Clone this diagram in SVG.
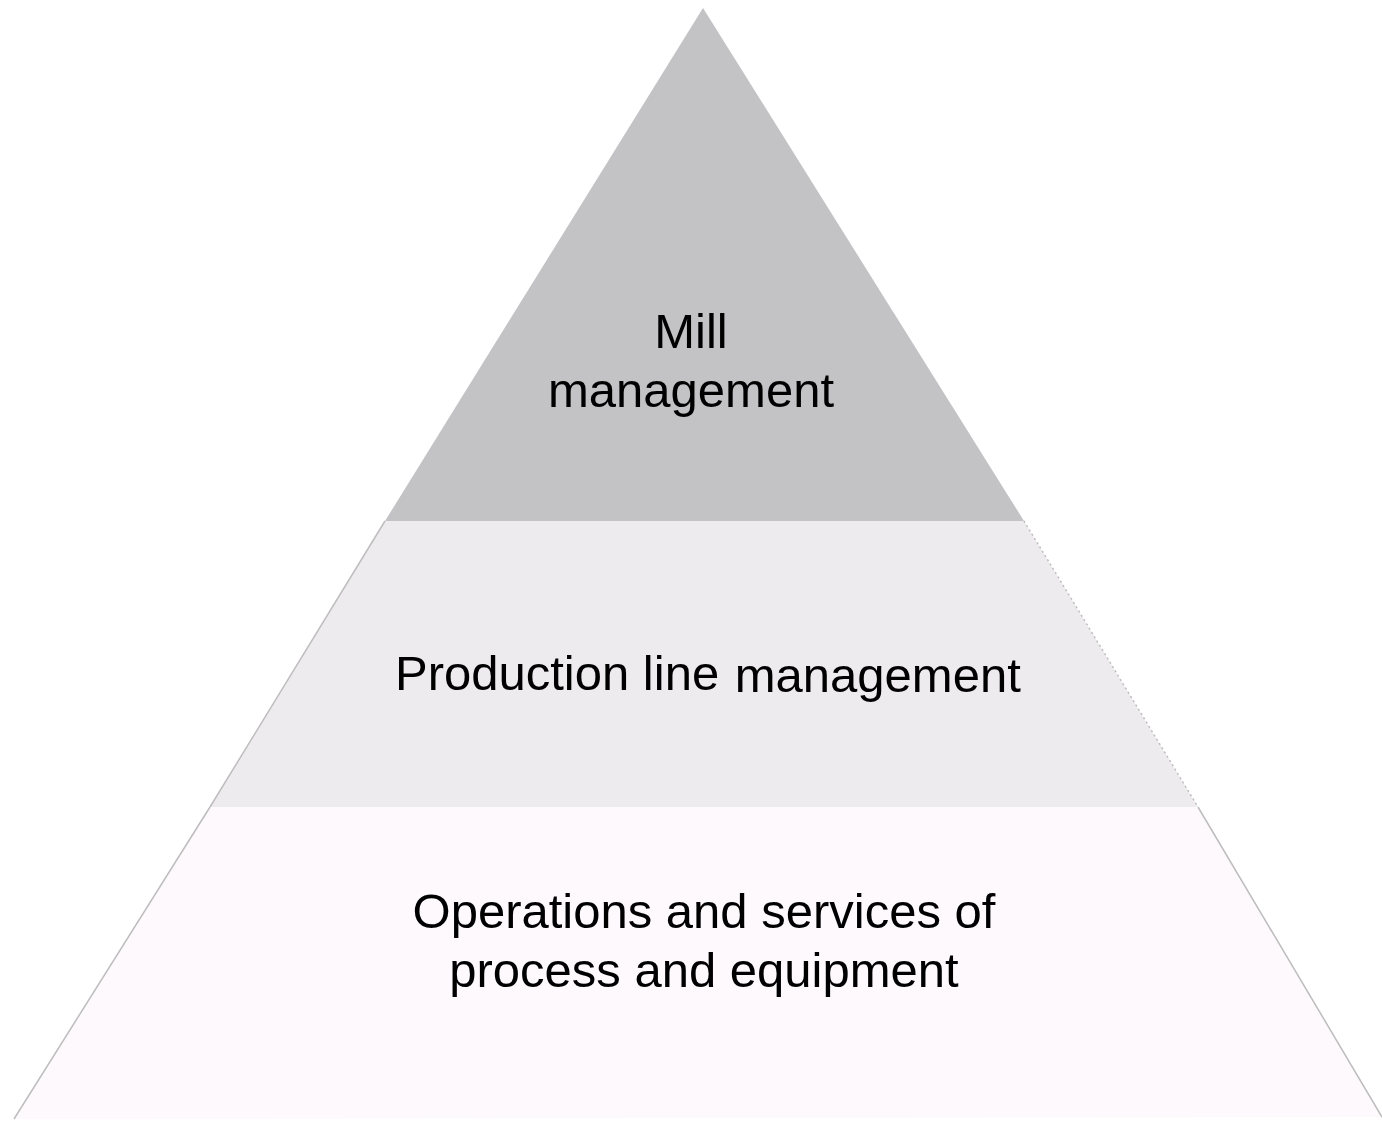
<svg xmlns="http://www.w3.org/2000/svg" width="1382" height="1121" viewBox="0 0 1382 1121">
<style>
.lbl{font-family:"Liberation Sans",Arial,sans-serif;font-size:49px;fill:#000;text-anchor:middle}
.edge{stroke:#bdbdbd;stroke-width:1.5}
</style>
<rect width="1382" height="1121" fill="#ffffff"/>
<g id="level-bottom">
<polygon points="210,807 1198,807 1382,1117 14,1119" fill="#fdf9fd"/>
<line class="edge" x1="210" y1="807" x2="14" y2="1119"/>
<line class="edge" x1="1198" y1="807" x2="1382" y2="1117"/>
<text class="lbl" x="704" y="928">Operations and services of</text>
<text class="lbl" x="704" y="987">process and equipment</text>
</g>
<g id="level-middle">
<polygon points="385,521 1024,521 1198,807 210,807" fill="#eeebee"/>
<line class="edge" x1="385" y1="521" x2="210" y2="807"/>
<line class="edge" x1="1024" y1="521" x2="1198" y2="807" stroke-dasharray="2 3"/>
<text class="lbl" x="395" y="690" style="text-anchor:start">Production line <tspan dx="2" dy="2">management</tspan></text>
</g>
<g id="level-top">
<polygon points="703,8 1024,521 385,521" fill="#c3c2c4"/>
<text class="lbl" x="691" y="348">Mill</text>
<text class="lbl" x="691" y="407">management</text>
</g>
</svg>
